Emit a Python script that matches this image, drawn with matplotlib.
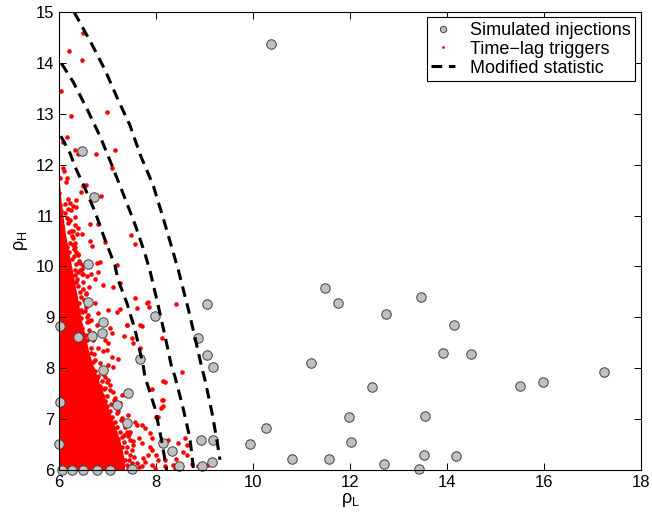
import matplotlib
matplotlib.use("Agg")
import matplotlib.pyplot as plt
from matplotlib.lines import Line2D

plt.rcParams['font.family'] = ['Liberation Sans', 'DejaVu Sans']
plt.rcParams['mathtext.fontset'] = 'custom'
plt.rcParams['mathtext.rm'] = 'Liberation Sans'
plt.rcParams['mathtext.it'] = 'Liberation Sans'

# simulated injections (rho_L, rho_H)
inj_x = [10.38, 11.48, 11.75, 12.74, 13.46, 14.15, 13.92, 14.49, 11.20, 12.45,
         15.50, 15.99, 17.24, 11.97, 13.54, 10.26, 9.93, 12.03, 10.81, 11.57,
         13.53, 14.19, 12.71, 13.42,
         6.60, 6.60, 9.05, 7.98, 6.90, 6.69, 6.39, 6.88, 6.02, 8.87,
         9.06, 7.67, 9.17, 6.91, 7.43, 7.19, 7.40, 6.02, 8.92, 9.18,
         8.14, 8.34, 9.15, 8.47, 8.94, 7.50, 6.06, 6.26, 6.50, 6.78,
         7.05, 6.00, 6.48, 6.73]
inj_y = [14.37, 9.57, 9.28, 9.07, 9.39, 8.85, 8.29, 8.27, 8.11, 7.63,
         7.65, 7.72, 7.92, 7.04, 7.06, 6.83, 6.51, 6.55, 6.21, 6.21,
         6.29, 6.28, 6.11, 6.01,
         10.05, 9.31, 9.26, 9.03, 8.90, 8.64, 8.61, 8.70, 8.82, 8.59,
         8.25, 8.18, 8.03, 7.97, 7.52, 7.27, 6.93, 7.34, 6.59, 6.59,
         6.54, 6.38, 6.16, 6.07, 6.07, 6.02, 6.00, 6.00, 6.00, 6.00,
         6.00, 6.51, 12.27, 11.36]

# time-lag triggers outside the solid core
trig_x = [6.49, 6.21, 6.48, 6.05, 7.00, 6.24, 6.17, 6.09, 6.34, 6.40, 6.76, 7.15,
          6.09, 6.11, 6.02, 6.16, 6.14, 6.50, 6.55, 7.09, 6.01, 6.45, 6.86, 6.19,
          6.36, 6.12, 6.23, 6.02, 6.29, 6.18, 6.25, 6.36, 6.05,
          6.16, 6.23, 6.33, 6.03, 6.05, 6.34, 6.40, 6.64, 6.80, 6.21, 6.29, 6.38,
          6.47, 7.48, 7.57, 6.95, 6.64, 6.69, 6.05, 6.11, 6.16, 6.23, 6.29, 6.33,
          6.04, 6.12, 6.21, 6.36, 6.40, 6.05, 6.16, 6.26, 6.43, 6.50, 6.78, 6.85,
          7.19, 6.05, 6.19, 6.33, 6.43,
          6.33, 6.47, 6.57, 6.67, 6.74, 6.81, 6.91, 7.12, 7.26, 7.57, 7.83, 7.86,
          8.41, 6.74, 6.81, 7.02, 7.19, 7.26, 7.60, 6.67, 6.78, 7.40, 7.71, 7.05,
          7.10, 7.33, 7.50, 7.53, 8.12, 6.95, 7.02, 6.81, 6.91, 6.98, 7.67, 7.09,
          7.22, 7.02, 7.12, 8.54, 6.74, 6.85,
          6.40, 6.50, 6.45, 6.55, 6.60, 6.50, 6.38, 6.55, 6.62, 6.48, 6.42, 6.58,
          6.62, 6.70, 6.66, 6.72, 6.60, 6.52, 6.55, 6.48, 6.45, 6.68, 6.75, 6.80,
          6.72, 6.85, 6.78, 6.90, 6.95, 7.00, 7.05, 7.10, 7.15, 7.20, 7.25, 7.30,
          7.35, 7.40, 7.38, 7.45, 7.48, 7.42, 7.30, 7.22, 7.12, 7.02, 6.92, 6.85,
          6.80,
          8.19, 7.91, 8.15, 8.10, 8.01, 7.72, 7.77, 7.57, 7.60, 7.88, 7.91, 7.64,
          7.71, 7.46, 7.53, 7.50, 7.88, 7.91, 7.84, 8.25, 8.29, 8.46, 8.56, 8.63,
          8.01, 8.05, 8.19, 7.74, 7.77, 7.72, 7.60, 7.64, 7.91, 7.98, 8.36, 8.39,
          8.74, 8.87, 9.08, 8.19, 7.29, 7.36, 7.43, 7.15, 7.26, 7.29, 7.19, 6.95,
          7.05, 7.12, 6.88, 7.02, 7.40, 7.33, 7.43, 7.46, 7.36, 7.40,
          8.15, 8.12, 8.15, 8.05, 8.60, 8.63, 8.41, 7.81, 7.40, 7.67,
          6.52, 6.58, 6.46, 6.40, 6.35, 6.30, 6.44, 6.36, 6.28, 6.24, 6.31, 6.20,
          6.90, 6.98, 7.06, 7.14, 7.22, 6.86, 6.94, 7.46, 7.52, 7.55, 7.50,
          6.54, 6.62, 6.70, 6.58, 6.66, 6.92, 7.00, 7.08, 7.20, 7.28, 7.36, 7.44,
          6.78, 6.86, 6.70, 6.50, 6.42, 6.34, 6.26, 6.18, 6.12, 6.56, 6.48, 6.40]
trig_y = [14.59, 14.24, 14.06, 13.45, 13.04, 12.95, 12.54, 12.45, 12.29, 12.21, 12.21, 12.29,
          11.94, 11.88, 11.74, 11.73, 11.65, 11.59, 11.60, 11.93, 11.44, 11.46, 11.39, 11.33,
          11.31, 11.22, 11.24, 11.21, 11.18, 11.13, 11.11, 11.16, 11.08,
          10.95, 10.91, 10.98, 10.78, 10.74, 10.82, 10.76, 10.83, 10.84, 10.67, 10.70, 10.64,
          10.64, 10.61, 10.44, 10.49, 10.50, 10.41, 10.48, 10.44, 10.39, 10.46, 10.42, 10.46,
          10.29, 10.26, 10.29, 10.29, 10.23, 10.16, 10.13, 10.15, 10.06, 10.03, 10.06, 10.08,
          10.02, 9.93, 9.93, 9.93, 9.93,
          9.83, 9.86, 9.81, 9.85, 9.76, 9.89, 9.64, 9.59, 9.67, 9.38, 9.30, 9.21,
          9.26, 9.28, 9.08, 9.15, 9.11, 9.16, 9.18, 8.95, 8.85, 8.85, 8.83, 8.79,
          8.69, 8.63, 8.59, 8.49, 8.59, 8.56, 8.50, 8.39, 8.33, 8.36, 8.39, 8.22,
          8.18, 8.06, 8.03, 7.93, 8.16, 8.10,
          9.62, 9.55, 9.40, 9.20, 9.05, 9.70, 9.75, 9.45, 9.60, 9.10, 9.28, 8.90,
          8.75, 8.55, 8.40, 8.28, 8.20, 8.45, 8.65, 8.80, 8.98, 8.00, 7.95, 7.85,
          7.70, 7.65, 7.55, 7.45, 7.35, 7.25, 7.15, 7.05, 6.95, 6.85, 6.75, 6.65,
          6.55, 6.45, 6.35, 6.20, 6.08, 6.02, 6.45, 6.60, 6.80, 7.00, 7.20, 7.35,
          7.42,
          7.73, 7.59, 7.38, 7.21, 7.05, 6.89, 6.82, 6.95, 6.89, 6.72, 6.62, 6.62,
          6.53, 6.59, 6.49, 6.40, 6.46, 6.40, 6.30, 6.59, 6.40, 6.53, 6.36, 6.30,
          6.30, 6.20, 6.20, 6.23, 6.15, 6.07, 6.13, 6.05, 6.10, 6.04, 6.10, 6.04,
          6.11, 6.07, 6.09, 6.07, 7.02, 6.92, 7.08, 7.41, 7.31, 7.48, 7.21, 7.61,
          7.67, 7.54, 7.74, 7.77, 6.75, 6.69, 6.66, 6.30, 6.20, 6.10,
          7.74, 7.38, 7.25, 7.05, 6.62, 6.49, 6.22, 9.29, 8.85, 8.85,
          9.35, 9.00, 9.15, 9.90, 10.05, 10.35, 9.50, 9.70, 10.55, 10.70, 10.20, 10.90,
          7.88, 7.72, 7.58, 7.38, 7.16, 7.98, 7.82, 6.74, 6.56, 6.26, 6.14,
          9.12, 8.92, 8.70, 8.55, 8.30, 7.60, 7.45, 7.30, 7.12, 6.98, 6.84, 6.70,
          7.80, 7.62, 8.12, 9.85, 10.10, 10.38, 10.60, 10.85, 11.05, 9.48, 9.95, 10.25]

# outer edge of the solid block of triggers near rho_L = 6
core_y = [6.0, 6.2, 6.4, 6.6, 6.8, 7.0, 7.2, 7.4, 7.6, 7.8, 8.0, 8.3, 8.6,
          9.0, 9.4, 9.8, 10.2, 10.6, 11.0, 11.4, 11.8]
core_x = [7.35, 7.35, 7.30, 7.25, 7.18, 7.10, 7.02, 6.95, 6.88, 6.80, 6.72,
          6.62, 6.55, 6.45, 6.38, 6.30, 6.22, 6.14, 6.08, 6.03, 6.00]

# modified statistic contours
curve1_x = [6.04, 6.23, 6.33, 6.52, 6.74, 6.95, 7.15, 7.22, 7.40, 7.57, 7.74, 7.77, 7.98, 8.12, 8.22]
curve1_y = [12.56, 12.22, 11.96, 11.57, 11.08, 10.52, 10.03, 9.73, 9.28, 8.75, 8.03, 7.84, 7.21, 6.56, 6.00]
curve2_x = [6.05, 6.29, 6.57, 6.85, 7.09, 7.36, 7.57, 7.77, 7.88, 8.05, 8.19, 8.32, 8.39, 8.56, 8.70, 8.77]
curve2_y = [13.99, 13.63, 13.11, 12.55, 11.99, 11.34, 10.82, 10.26, 9.90, 9.21, 8.62, 8.03, 7.84, 7.21, 6.62, 6.04]
curve3_x = [6.31, 6.67, 6.95, 7.22, 7.46, 7.69, 7.94, 8.12, 8.29, 8.46, 8.67, 8.80, 8.94, 9.01, 9.15, 9.25, 9.32]
curve3_y = [15.00, 14.38, 13.86, 13.27, 12.78, 12.16, 11.60, 11.04, 10.49, 9.93, 9.15, 8.62, 8.03, 7.77, 7.15, 6.62, 6.20]

fig = plt.figure(figsize=(6.52, 5.18), dpi=100)
ax = fig.add_axes([0.0905, 0.0927, 0.8925, 0.8841])

ax.fill_betweenx(core_y, 6, core_x, color='red', lw=0, zorder=1)
ax.plot(trig_x, trig_y, 'o', color='red', ms=3.3, mew=0, zorder=2)
ax.plot(inj_x, inj_y, 'o', mfc='#c0c0c0', mec='#404040', mew=0.7, ms=6.8,
        zorder=3, clip_on=False)
for cx, cy in [(curve1_x, curve1_y), (curve2_x, curve2_y), (curve3_x, curve3_y)]:
    ax.plot(cx, cy, color='black', lw=2.2, dashes=(3.5, 2.2), zorder=4)

ax.set_xlim(6, 18)
ax.set_ylim(6, 15)
ax.set_xticks(range(6, 19, 2))
ax.set_yticks(range(6, 16))
ax.tick_params(direction='in', top=True, right=True, length=5, width=0.7, labelsize=12)
for s in ax.spines.values():
    s.set_linewidth(0.8)
    s.set_zorder(5)
ax.set_xlabel(r'$\rho_\mathrm{L}$', fontsize=13, labelpad=1)
ax.set_ylabel(r'$\rho_\mathrm{H}$', fontsize=13, labelpad=4)

handles = [
    Line2D([], [], ls='none', marker='o', mfc='#c0c0c0', mec='#404040', mew=0.7, ms=4.5),
    Line2D([], [], ls='none', marker='o', color='red', ms=2, mew=0),
    Line2D([], [], color='black', lw=2.2, dashes=(3.5, 2.2)),
]
leg = ax.legend(handles, ['Simulated injections', 'Time\u2212lag triggers', 'Modified statistic'],
                loc='upper right', fontsize=13, fancybox=False, framealpha=1,
                edgecolor='black', borderaxespad=0.3, handlelength=1.3,
                borderpad=0.25, labelspacing=0.1, handletextpad=0.85)
leg.get_frame().set_linewidth(0.8)
leg.set_zorder(6)

fig.savefig('out.png', dpi=100)
